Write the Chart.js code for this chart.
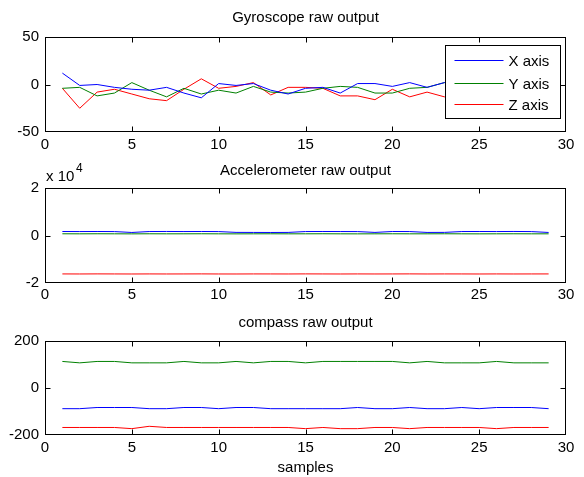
<!DOCTYPE html>
<html>
<head>
<meta charset="utf-8">
<script src="https://cdn.jsdelivr.net/npm/chart.js@4.4.1/dist/chart.umd.min.js"></script>
<style>
  html, body { margin: 0; padding: 0; background: #fff; }
  #wrap { position: relative; width: 584px; height: 477px; overflow: hidden; }
  canvas { position: absolute; left: 0; }
</style>
</head>
<body>
<div id="wrap">
  <canvas id="gyro" width="584" height="155" style="top:0px"></canvas>
  <canvas id="accel" width="584" height="150" style="top:155px"></canvas>
  <canvas id="compass" width="584" height="172" style="top:305px"></canvas>
</div>
<script>
// sample index (x axis)
const samples = [1, 2, 3, 4, 5, 6, 7, 8, 9, 10, 11, 12, 13, 14, 15, 16, 17, 18, 19, 20, 21, 22, 23, 24, 25, 26, 27, 28, 29];
const seriesNames = ['X axis', 'Y axis', 'Z axis'];
const seriesColors = ['#0000ff', '#008000', '#ff0000'];

// gyroscope raw output
const gyroX = [12, -1, 0, -3, -5, -6, -3, -9, -14, 1, -1, 1, -6, -10, -4, -3, -9, 1, 1, -2, 2, -3, 2, 3, -2, 4, 1, -1, 2];
const gyroY = [-4, -3, -12, -9, 2, -6, -13, -4, -10, -6, -9, -2, -8, -9, -8, -4, -2, -3, -9, -9, -4, -3, 2, 6, 3, 1, -2, 2, 0];
const gyroZ = [-4, -25, -8, -5, -10, -15, -17, -5, 6, -4, -2, 2, -11, -3, -3, -4, -12, -12, -16, -5, -13, -8, -13, -9, -12, -6, -10, -8, -11];

// accelerometer raw output
const accX = [1680, 1660, 1690, 1650, 1280, 1670, 1700, 1660, 1690, 1650, 1310, 1290, 1270, 1300, 1660, 1690, 1670, 1650, 1300, 1680, 1660, 1290, 1310, 1670, 1690, 1660, 1700, 1650, 1280];
const accY = [720, 700, 730, 710, 690, 720, 700, 710, 730, 700, 690, 710, 720, 700, 710, 730, 700, 690, 710, 720, 700, 710, 730, 700, 690, 710, 720, 700, 710];
const accZ = [-16180, -16200, -16170, -16190, -16210, -16180, -16200, -16190, -16170, -16200, -16210, -16180, -16190, -16200, -16170, -16190, -16210, -16180, -16200, -16190, -16170, -16200, -16180, -16190, -16210, -16180, -16200, -16190, -16180];

// compass raw output
const compX = [-88, -88, -83, -83, -83, -88, -88, -83, -83, -88, -83, -83, -88, -88, -88, -88, -88, -83, -88, -88, -83, -88, -88, -83, -88, -83, -83, -83, -88];
const compY = [113, 107, 113, 113, 107, 107, 107, 113, 107, 107, 113, 107, 113, 113, 107, 113, 113, 113, 113, 113, 107, 113, 107, 107, 107, 113, 107, 107, 107];
const compZ = [-168, -168, -168, -168, -173, -163, -168, -168, -168, -168, -168, -168, -168, -168, -173, -168, -173, -173, -168, -168, -173, -168, -168, -168, -168, -173, -168, -168, -168];

const FONT = "'Liberation Sans', Arial, Helvetica, sans-serif";
Chart.defaults.font.family = FONT;
Chart.defaults.font.size = 15;
Chart.defaults.color = '#000';

// box round the axes and inward ticks, matlab style
const matlabAxes = {
  id: 'matlabAxes',
  afterDatasetsDraw(chart) {
    const { ctx, chartArea: a, scales: { x, y } } = chart;
    const L = Math.round(a.left) + 0.5, R = Math.round(a.right) - 0.5;
    const T = Math.round(a.top) + 0.5, B = Math.round(a.bottom) - 0.5;
    ctx.save();
    ctx.strokeStyle = '#000';
    ctx.lineWidth = 1;
    ctx.beginPath();
    x.ticks.forEach(t => {
      const px = Math.round(x.getPixelForValue(t.value)) + 0.5;
      if (px <= L + 1 || px >= R - 1) return;
      ctx.moveTo(px, T); ctx.lineTo(px, T + 5);
      ctx.moveTo(px, B); ctx.lineTo(px, B - 5);
    });
    y.ticks.forEach(t => {
      const py = Math.round(y.getPixelForValue(t.value)) + 0.5;
      if (py <= T + 1 || py >= B - 1) return;
      ctx.moveTo(L, py); ctx.lineTo(L + 5, py);
      ctx.moveTo(R, py); ctx.lineTo(R - 5, py);
    });
    ctx.stroke();
    ctx.strokeRect(L, T, R - L, B - T);
    ctx.restore();
  }
};

// legend box drawn over the lines (top right of the gyro plot)
const boxLegend = {
  id: 'boxLegend',
  afterDatasetsDraw(chart) {
    const { ctx, chartArea: a } = chart;
    const w = 115, h = 73;
    const left = Math.round(a.right) - 6 - w + 0.5, top = Math.round(a.top) + 8 + 0.5;
    const rows = [15, 38, 59];
    ctx.save();
    ctx.fillStyle = '#fff';
    ctx.fillRect(left, top, w, h);
    ctx.strokeStyle = '#000';
    ctx.lineWidth = 1;
    ctx.strokeRect(left, top, w, h);
    ctx.font = '15px ' + FONT;
    ctx.textBaseline = 'middle';
    seriesNames.forEach((name, i) => {
      const yy = Math.floor(top + rows[i]) + 0.5;
      ctx.beginPath();
      ctx.strokeStyle = seriesColors[i];
      ctx.moveTo(left + 9, yy);
      ctx.lineTo(left + 58, yy);
      ctx.stroke();
      ctx.fillStyle = '#000';
      ctx.fillText(name, left + 63, yy + 1);
    });
    ctx.restore();
  }
};

// "x 10^4" exponent label above the accelerometer axis
const expLabel = {
  id: 'expLabel',
  afterDraw(chart) {
    const ctx = chart.ctx;
    ctx.save();
    ctx.fillStyle = '#000';
    ctx.textBaseline = 'alphabetic';
    ctx.font = '15px ' + FONT;
    ctx.fillText('x 10', 46, 26);
    ctx.font = '12px ' + FONT;
    ctx.fillText('4', 76, 17);
    ctx.restore();
  }
};

function makeData(series) {
  return {
    datasets: series.map((vals, i) => ({
      label: seriesNames[i],
      data: samples.map((s, k) => ({ x: s, y: vals[k] })),
      borderColor: seriesColors[i],
      backgroundColor: seriesColors[i],
      borderWidth: 1,
      pointRadius: 0,
      tension: 0
    }))
  };
}

function makeOptions(o) {
  return {
    responsive: false,
    animation: false,
    events: [],
    layout: { padding: { left: 0, right: 18, top: 0, bottom: 0 } },
    plugins: {
      legend: { display: false },
      tooltip: { enabled: false },
      title: {
        display: true,
        text: o.title,
        fullSize: false,
        color: '#000',
        font: { size: 15, weight: 'normal' },
        padding: { top: o.titlePad[0], bottom: o.titlePad[1] }
      }
    },
    scales: {
      x: {
        type: 'linear',
        min: 0, max: 30,
        grid: { display: false, drawTicks: false },
        border: { display: false },
        ticks: { stepSize: 5, padding: o.xPad, maxRotation: 0, autoSkip: false, color: '#000' },
        title: { display: !!o.xTitle, text: o.xTitle || '', color: '#000', font: { size: 15 }, padding: { top: 0, bottom: 0 } },
        afterFit: s => { s.height = o.xHeight; }
      },
      y: {
        min: o.yMin, max: o.yMax,
        grid: { display: false, drawTicks: false },
        border: { display: false },
        ticks: { stepSize: o.yStep, padding: 6, color: '#000', callback: o.yFmt || (v => v) },
        afterFit: s => { s.width = 45; }
      }
    }
  };
}

new Chart(document.getElementById('gyro'), {
  type: 'line',
  data: makeData([gyroX, gyroY, gyroZ]),
  options: makeOptions({ title: 'Gyroscope raw output', titlePad: [9, 10], xPad: 4, xHeight: 23, yMin: -50, yMax: 50, yStep: 50 }),
  plugins: [matlabAxes, boxLegend]
});

new Chart(document.getElementById('accel'), {
  type: 'line',
  data: makeData([accX, accY, accZ]),
  options: makeOptions({ title: 'Accelerometer raw output', titlePad: [7, 8], xPad: 3, xHeight: 22, yMin: -20000, yMax: 20000, yStep: 20000, yFmt: v => v / 10000 }),
  plugins: [matlabAxes, expLabel]
});

new Chart(document.getElementById('compass'), {
  type: 'line',
  data: makeData([compX, compY, compZ]),
  options: makeOptions({ title: 'compass raw output', titlePad: [9, 9], xPad: 4, xHeight: 42, xTitle: 'samples', yMin: -200, yMax: 200, yStep: 200 }),
  plugins: [matlabAxes]
});
</script>
</body>
</html>
